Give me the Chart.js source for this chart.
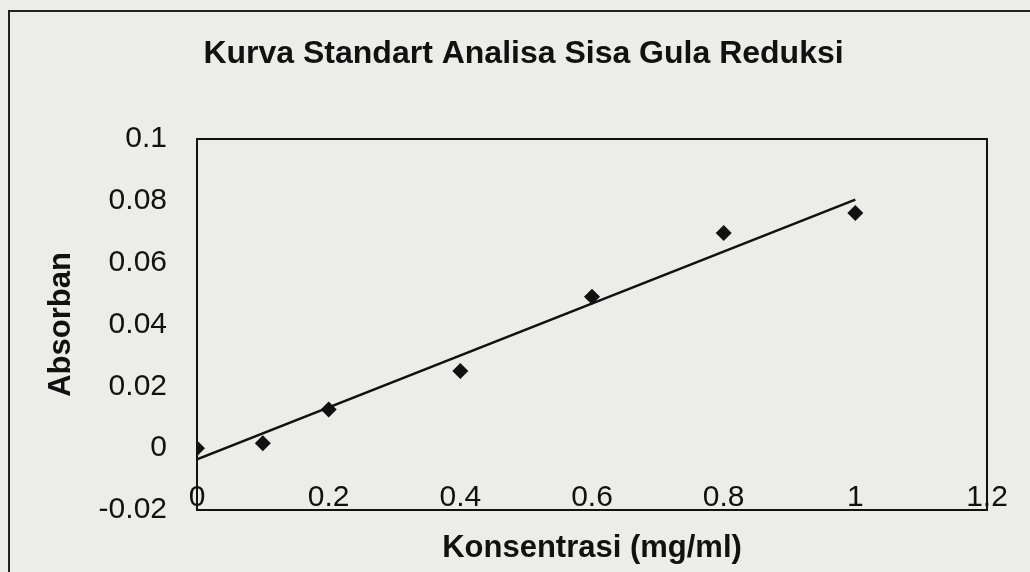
<!DOCTYPE html>
<html>
<head>
<meta charset="utf-8">
<script src="https://cdn.jsdelivr.net/npm/chart.js@4.4.1/dist/chart.umd.min.js"></script>
<style>
    html, body { margin: 0; padding: 0; background: #ecece8; }
    #wrap { position: relative; width: 1030px; height: 572px; }
</style>
</head>
<body>
<div id="wrap"><canvas id="chart" width="1030" height="572"></canvas></div>
<script>
// Data
const konsentrasi = [0, 0.1, 0.2, 0.4, 0.6, 0.8, 1.0];
const absorban = [0, 0.0016, 0.0125, 0.025, 0.049, 0.0696, 0.0761];
const trendX = [0, 1.0];
const trendY = [-0.0036, 0.0804];
const xTickValues = [0, 0.2, 0.4, 0.6, 0.8, 1, 1.2];
const yTickValues = [-0.02, 0, 0.02, 0.04, 0.06, 0.08, 0.1];

const FONT = "'Liberation Sans', Arial, sans-serif";
const INK = '#111111';

// background, outer frame and plot-area box
const framePlugin = {
    id: 'frame',
    beforeDraw(chart) {
        const ctx = chart.ctx;
        ctx.save();
        ctx.fillStyle = '#ecece8';
        ctx.fillRect(0, 0, chart.width, chart.height);
        ctx.strokeStyle = '#222222';
        ctx.lineWidth = 2;
        ctx.beginPath();
        ctx.moveTo(9, chart.height);
        ctx.lineTo(9, 11);
        ctx.lineTo(chart.width, 11);
        ctx.stroke();
        ctx.restore();
    },
    beforeDatasetsDraw(chart) {
        const a = chart.chartArea;
        const ctx = chart.ctx;
        ctx.save();
        ctx.strokeStyle = INK;
        ctx.lineWidth = 2;
        ctx.strokeRect(a.left, a.top, a.right - a.left, a.bottom - a.top);
        ctx.restore();
    }
};

new Chart(document.getElementById('chart'), {
    type: 'scatter',
    data: {
        datasets: [
            {
                label: 'Absorban',
                data: konsentrasi.map((x, i) => ({ x: x, y: absorban[i] })),
                pointStyle: 'rectRot',
                pointRadius: 8,
                pointHoverRadius: 8,
                backgroundColor: INK,
                borderColor: INK,
                borderWidth: 0
            },
            {
                label: 'Linear',
                type: 'line',
                data: trendX.map((x, i) => ({ x: x, y: trendY[i] })),
                borderColor: INK,
                borderWidth: 2.5,
                pointRadius: 0,
                fill: false
            }
        ]
    },
    options: {
        responsive: false,
        animation: false,
        layout: { padding: { left: 60, right: 43, top: 0, bottom: 0 } },
        plugins: {
            legend: { display: false },
            tooltip: { enabled: false },
            title: {
                display: true,
                text: 'Kurva Standart Analisa Sisa Gula Reduksi',
                color: INK,
                font: { family: FONT, size: 32, weight: 'bold', lineHeight: 1.2 },
                padding: { top: 35, bottom: 65.6 }
            }
        },
        scales: {
            x: {
                type: 'linear',
                min: 0,
                max: 1.2,
                afterBuildTicks: axis => { axis.ticks = xTickValues.map(v => ({ value: v })); },
                afterFit: axis => { axis.height = 62; },
                grid: { display: false, drawTicks: false },
                border: { display: false },
                ticks: {
                    color: INK,
                    mirror: true,
                    padding: -5.5,
                    maxRotation: 0,
                    autoSkip: false,
                    font: { family: FONT, size: 30, lineHeight: 1.2 },
                    callback: v => String(v)
                },
                title: {
                    display: true,
                    text: 'Konsentrasi (mg/ml)',
                    color: INK,
                    font: { family: FONT, size: 31, weight: 'bold', lineHeight: 1.2 },
                    padding: { top: 0, bottom: 5 }
                }
            },
            y: {
                type: 'linear',
                min: -0.02,
                max: 0.1,
                afterBuildTicks: axis => { axis.ticks = yTickValues.map(v => ({ value: v })); },
                afterFit: axis => { axis.width = 137; },
                grid: { display: false, drawTicks: false },
                border: { display: false },
                ticks: {
                    color: INK,
                    padding: 30,
                    font: { family: FONT, size: 30, lineHeight: 1.2 },
                    callback: v => String(v)
                },
                title: {
                    display: true,
                    text: 'Absorban',
                    color: INK,
                    font: { family: FONT, size: 31, weight: 'bold', lineHeight: 1.2 },
                    padding: { top: -17.6, bottom: 0 }
                }
            }
        }
    },
    plugins: [framePlugin]
});
</script>
</body>
</html>
